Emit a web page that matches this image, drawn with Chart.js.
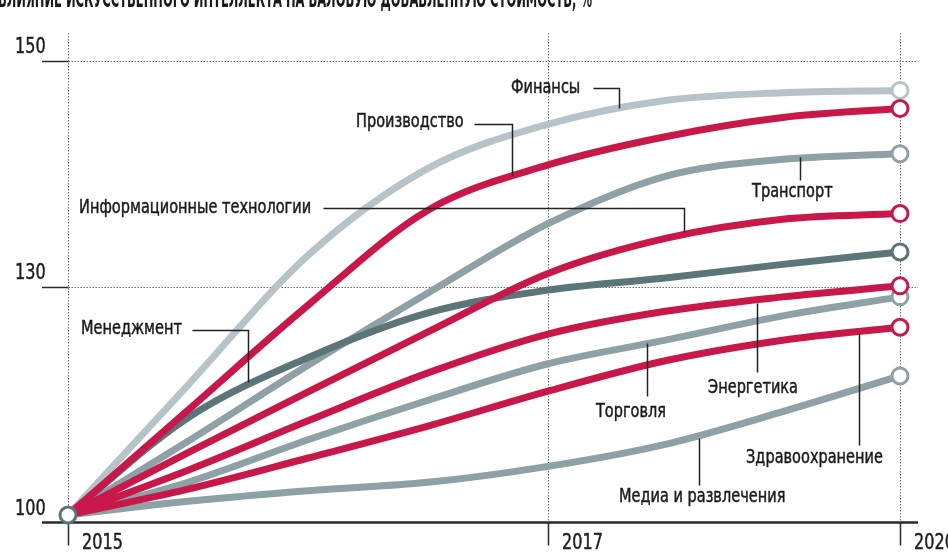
<!DOCTYPE html>
<html lang="ru">
<head>
<meta charset="utf-8">
<script src="https://cdn.jsdelivr.net/npm/chart.js@4.4.1/dist/chart.umd.min.js"></script>
<style>
    html, body { margin: 0; padding: 0; background: #ffffff; }
    #wrap { position: relative; width: 948px; height: 553px; overflow: hidden; }
</style>
</head>
<body>
<div id="wrap"><canvas id="aiChart" width="948" height="553"></canvas></div>
<script>
// Данные (индекс, 2015 = 100)
const YEARS = [2015, 2015.5, 2016, 2016.5, 2017, 2018, 2019, 2020];
const X_TICKS = [2015, 2017, 2020];
const Y_TICKS = [100, 130, 150];

const FINANCE       = [100, 117.1, 132.8, 140.5, 144.4, 146.5, 147.2, 147.4];
const MANUFACTURING = [100, 113.8, 127.6, 136.8, 140.8, 143.3, 145.0, 145.8];
const TRANSPORT     = [100, 109.7, 119.7, 129.2, 135.6, 139.8, 141.3, 141.8];
const IT            = [100, 108.2, 116.2, 124.1, 131.2, 134.3, 136.0, 136.5];
const MANAGEMENT    = [100, 112.8, 120.7, 126.6, 129.6, 130.8, 132.0, 133.1];
const ENERGY        = [100, 105.9, 112.4, 118.7, 123.8, 126.8, 128.7, 130.1];
const TRADE         = [100, 104.3, 109.9, 115.1, 119.9, 123.0, 126.2, 128.7];
const HEALTH        = [100, 103.4, 107.5, 111.7, 116.3, 120.3, 123.0, 124.7];
const MEDIA         = [100, 101.8, 103.2, 104.3, 106.4, 109.3, 113.6, 118.3];

const TITLE = 'ВЛИЯНИЕ ИСКУССТВЕННОГО ИНТЕЛЛЕКТА НА ВАЛОВУЮ ДОБАВЛЕННУЮ СТОИМОСТЬ, %';

const CRIMSON = '#c8184a';
const LIGHT = '#b6c4c9';
const GREY = '#8ea1a7';
const DARK = '#5c7579';
const FONT = '"Liberation Sans Narrow", "DejaVu Sans Condensed", "Roboto", sans-serif';
const SQUEEZE = 0.85;

// Подписи отраслей: текст + выноска (в координатах данных)
const CALLOUTS = [
    { text: 'Финансы', at: [2016.846, 147.6], path: [[2017.384, 147.6], [2017.605, 147.6], [2017.605, 145.84]] },
    { text: 'Производство', at: [2016.2, 144.6], path: [[2016.692, 144.42], [2016.85, 144.42], [2016.85, 139.91]] },
    { text: 'Информационные технологии', at: [2015.046, 136.99], path: [[2016.0625, 136.99], [2018.159, 136.99], [2018.159, 134.87]] },
    { text: 'Менеджмент', at: [2015.054, 124.47], path: [[2015.517, 124.34], [2015.75, 124.34], [2015.75, 117.5]] },
    { text: 'Транспорт', at: [2018.739, 138.41], path: [[2019.148, 141.5], [2019.148, 139.47]] },
    { text: 'Энергетика', at: [2018.364, 116.71], path: [[2018.781, 127.89], [2018.781, 118.82]] },
    { text: 'Торговля', at: [2017.409, 113.55], path: [[2017.844, 122.63], [2017.844, 115.66]] },
    { text: 'Здравоохранение', at: [2018.688, 107.5], path: [[2019.651, 123.95], [2019.651, 109.21]] },
    { text: 'Медиа и развлечения', at: [2017.605, 102.37], path: [[2018.287, 110.13], [2018.287, 103.95]] }
];

// Шкала с кусочно-линейной разметкой (как в оригинальной инфографике)
class PiecewiseScale extends Chart.LinearScale {
    static id = 'piecewise';
    static defaults = {};

    toDecimal(value) {
        const s = this.options.stops;
        const f = this.options.fracs;
        let i = 0;
        if (value > s[s.length - 1]) i = s.length - 2;
        else {
            while (i < s.length - 2 && value > s[i + 1]) i++;
        }
        return f[i] + (value - s[i]) / (s[i + 1] - s[i]) * (f[i + 1] - f[i]);
    }

    getPixelForValue(value) {
        return this.getPixelForDecimal(this.toDecimal(value));
    }

    getValueForPixel(pixel) {
        const d = this.getDecimalForPixel(pixel);
        const s = this.options.stops;
        const f = this.options.fracs;
        let i = 0;
        while (i < f.length - 2 && d > f[i + 1]) i++;
        return s[i] + (d - f[i]) / (f[i + 1] - f[i]) * (s[i + 1] - s[i]);
    }
}
Chart.register(PiecewiseScale);

function series(values) {
    return values.map((v, i) => ({ x: YEARS[i], y: v }));
}

function makeDataset(label, values, color, order) {
    return {
        label: label,
        data: series(values),
        borderColor: color,
        borderWidth: 7,
        borderCapStyle: 'butt',
        cubicInterpolationMode: 'monotone',
        pointRadius: ctx => ctx.dataIndex === values.length - 1 ? 8 : 0,
        pointHoverRadius: ctx => ctx.dataIndex === values.length - 1 ? 8 : 0,
        pointBorderWidth: 3,
        pointBorderColor: color,
        pointBackgroundColor: '#ffffff',
        clip: false,
        order: order
    };
}

// узкий текст: сжимаем по горизонтали, чуть утолщаем
function narrowText(ctx, text, x, y) {
    ctx.save();
    ctx.translate(x, y);
    ctx.scale(SQUEEZE, 1);
    ctx.fillText(text, 0, 0);
    ctx.lineWidth = 0.45;
    ctx.strokeStyle = ctx.fillStyle;
    ctx.strokeText(text, 0, 0);
    ctx.restore();
}

const decorPlugin = {
    id: 'decor',
    beforeDatasetsDraw(chart) {
        const ctx = chart.ctx;
        const xs = chart.scales.x;
        const ys = chart.scales.y;
        const area = chart.chartArea;
        const left = Math.round(xs.getPixelForValue(X_TICKS[0])) + 0.5;
        const rightEnd = area.right + 18;
        const bottom = Math.round(area.bottom) + 0.5;

        ctx.save();

        // заголовок (срезан сверху)
        ctx.fillStyle = '#1a1a1a';
        ctx.font = 'bold 24px ' + FONT;
        ctx.textBaseline = 'alphabetic';
        ctx.textAlign = 'left';
        ctx.save();
        ctx.translate(-2, 7);
        ctx.scale(SQUEEZE, 1);
        ctx.fillText(TITLE, 0, 0, 594 / SQUEEZE);
        ctx.restore();

        // пунктирные горизонтальные линии
        ctx.lineWidth = 1;
        ctx.strokeStyle = '#6e6e6e';
        ctx.setLineDash([1.5, 1.5]);
        Y_TICKS.slice(1).forEach(v => {
            const y = Math.round(ys.getPixelForValue(v)) + 0.5;
            ctx.beginPath();
            ctx.moveTo(left, y);
            ctx.lineTo(rightEnd, y);
            ctx.stroke();
        });
        // пунктирные вертикальные линии
        X_TICKS.forEach(v => {
            const x = Math.round(xs.getPixelForValue(v)) + 0.5;
            ctx.beginPath();
            ctx.moveTo(x, area.top);
            ctx.lineTo(x, bottom);
            ctx.stroke();
        });
        ctx.setLineDash([]);

        // засечки и ось
        ctx.strokeStyle = '#2a2a2a';
        ctx.lineWidth = 1.5;
        Y_TICKS.slice(1).forEach(v => {
            const y = Math.round(ys.getPixelForValue(v)) + 0.5;
            ctx.beginPath();
            ctx.moveTo(42, y);
            ctx.lineTo(left, y);
            ctx.stroke();
        });
        X_TICKS.forEach(v => {
            const x = Math.round(xs.getPixelForValue(v)) + 0.5;
            ctx.beginPath();
            ctx.moveTo(x, bottom);
            ctx.lineTo(x, bottom + 23);
            ctx.stroke();
        });
        ctx.lineWidth = 2.5;
        ctx.beginPath();
        ctx.moveTo(42, bottom);
        ctx.lineTo(rightEnd, bottom);
        ctx.stroke();

        // подписи осей
        ctx.fillStyle = '#1e1e1e';
        ctx.font = '21px ' + FONT;
        Y_TICKS.forEach((v, i) => {
            const y = i === 0 ? bottom : ys.getPixelForValue(v);
            narrowText(ctx, String(v), 15, y - 8);
        });
        X_TICKS.forEach(v => {
            narrowText(ctx, String(v), xs.getPixelForValue(v) + 14, bottom + 26);
        });
        ctx.restore();
    },
    afterDatasetsDraw(chart) {
        const ctx = chart.ctx;
        const xs = chart.scales.x;
        const ys = chart.scales.y;
        ctx.save();
        ctx.lineWidth = 1.5;
        ctx.fillStyle = '#1a1a1a';
        ctx.font = '19px ' + FONT;
        ctx.textBaseline = 'middle';
        ctx.textAlign = 'left';
        CALLOUTS.forEach(c => {
            narrowText(ctx, c.text, xs.getPixelForValue(c.at[0]), ys.getPixelForValue(c.at[1]));
            ctx.strokeStyle = '#222222';
            ctx.beginPath();
            c.path.forEach((p, i) => {
                const px = Math.round(xs.getPixelForValue(p[0])) + 0.5;
                const py = Math.round(ys.getPixelForValue(p[1])) + 0.5;
                if (i === 0) ctx.moveTo(px, py); else ctx.lineTo(px, py);
            });
            ctx.stroke();
        });
        ctx.restore();
    }
};

document.addEventListener('DOMContentLoaded', () => {
    const ctx = document.getElementById('aiChart').getContext('2d');
    new Chart(ctx, {
        type: 'line',
        data: {
            datasets: [
                // общая стартовая точка
                {
                    label: 'Старт',
                    data: [{ x: YEARS[0], y: 100 }],
                    showLine: false,
                    pointRadius: 8,
                    pointBorderWidth: 3,
                    pointBorderColor: DARK,
                    pointBackgroundColor: '#ffffff',
                    clip: false,
                    order: 0
                },
                makeDataset('Производство', MANUFACTURING, CRIMSON, 1),
                makeDataset('Информационные технологии', IT, CRIMSON, 1),
                makeDataset('Энергетика', ENERGY, CRIMSON, 1),
                makeDataset('Здравоохранение', HEALTH, CRIMSON, 1),
                makeDataset('Менеджмент', MANAGEMENT, DARK, 2),
                makeDataset('Финансы', FINANCE, LIGHT, 3),
                makeDataset('Транспорт', TRANSPORT, GREY, 3),
                makeDataset('Торговля', TRADE, GREY, 3),
                makeDataset('Медиа и развлечения', MEDIA, GREY, 3)
            ]
        },
        options: {
            responsive: false,
            animation: false,
            events: [],
            layout: {
                padding: { left: 68, right: 48, top: 33, bottom: 31 }
            },
            plugins: {
                legend: { display: false },
                tooltip: { enabled: false }
            },
            scales: {
                x: {
                    type: 'piecewise',
                    display: false,
                    min: 2015,
                    max: 2020,
                    stops: [2015, 2017, 2020],
                    fracs: [0, 0.5769, 1]
                },
                y: {
                    type: 'piecewise',
                    display: false,
                    min: 99,
                    max: 153,
                    stops: [100, 130, 150],
                    fracs: [0.0143, 0.4806, 0.9427]
                }
            }
        },
        plugins: [decorPlugin]
    });
});
</script>
</body>
</html>
